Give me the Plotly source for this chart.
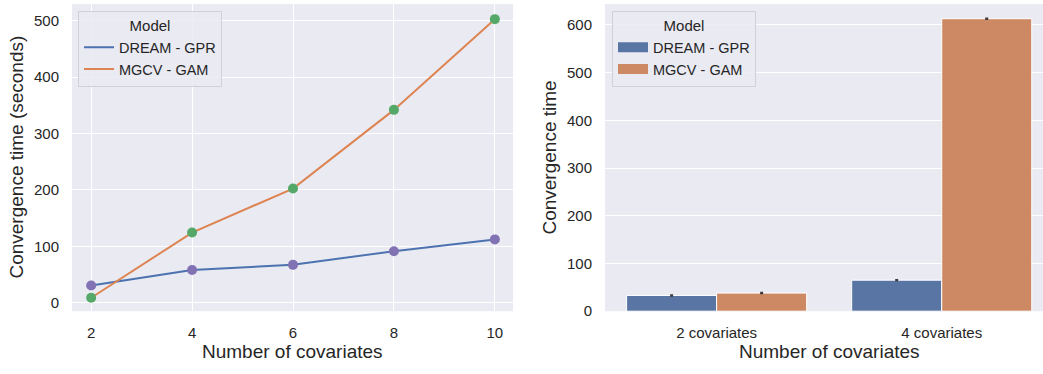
import plotly.graph_objects as go

# ---- data ----
covariates = [2, 4, 6, 8, 10]
dream_gpr = [30.5, 57.8, 67.0, 91.3, 112.2]
mgcv_gam = [8.7, 124.3, 202.4, 342.0, 503.0]

bar_categories = ["2 covariates", "4 covariates"]
bar_dream = [33, 65]
bar_mgcv = [38, 613]
bar_dream_err = [2.5, 2.5]
bar_mgcv_err = [2.5, 2.5]

# ---- styles ----
FONT = "Liberation Sans, Arial, sans-serif"
TXT = "#262626"
BG = "#eaeaf2"
BLUE = "#4c72b0"
ORANGE = "#dd8452"
GREEN = "#55a868"
PURPLE = "#8172b3"
BAR_BLUE = "#5975a4"
BAR_ORANGE = "#cc8963"

W, H = 1043, 374
def px_x(x):
    return x / W
def px_y(y):
    return 1 - y / H

fig = go.Figure()

# left: lines
fig.add_trace(go.Scatter(x=covariates, y=dream_gpr, mode="lines", name="DREAM - GPR",
                         line=dict(color=BLUE, width=2), xaxis="x", yaxis="y", legend="legend"))
fig.add_trace(go.Scatter(x=covariates, y=mgcv_gam, mode="lines", name="MGCV - GAM",
                         line=dict(color=ORANGE, width=2), xaxis="x", yaxis="y", legend="legend"))
fig.add_trace(go.Scatter(x=covariates, y=dream_gpr, mode="markers", showlegend=False,
                         marker=dict(color=PURPLE, size=10), xaxis="x", yaxis="y"))
fig.add_trace(go.Scatter(x=covariates, y=mgcv_gam, mode="markers", showlegend=False,
                         marker=dict(color=GREEN, size=10), xaxis="x", yaxis="y"))

# right: bars
err_style = dict(type="data", thickness=3, width=0, color="#3a3a3a")
fig.add_trace(go.Bar(x=bar_categories, y=bar_dream, name="DREAM - GPR", showlegend=False,
                     marker=dict(color=BAR_BLUE, line=dict(color="white", width=1)),
                     error_y=dict(array=bar_dream_err, **err_style),
                     xaxis="x2", yaxis="y2"))
fig.add_trace(go.Bar(x=bar_categories, y=bar_mgcv, name="MGCV - GAM", showlegend=False,
                     marker=dict(color=BAR_ORANGE, line=dict(color="white", width=1)),
                     error_y=dict(array=bar_mgcv_err, **err_style),
                     xaxis="x2", yaxis="y2"))
# legend entries for bars (wide patches like seaborn)
fig.add_trace(go.Scatter(x=[None], y=[None], mode="lines", name="DREAM - GPR",
                         line=dict(color=BAR_BLUE, width=10), xaxis="x2", yaxis="y2", legend="legend2"))
fig.add_trace(go.Scatter(x=[None], y=[None], mode="lines", name="MGCV - GAM",
                         line=dict(color=BAR_ORANGE, width=10), xaxis="x2", yaxis="y2", legend="legend2"))

ydom = [px_y(318), px_y(4)]
tickfont = dict(family=FONT, size=15, color=TXT)
common_axis = dict(showline=False, zeroline=False, ticks="", tickfont=tickfont,
                   gridcolor="white", gridwidth=1.3)

legend_common = dict(
    title=dict(text="Model", side="top center", font=dict(family=FONT, size=15, color=TXT)),
    font=dict(family=FONT, size=14.5, color=TXT),
    bgcolor="rgba(234,234,242,0.85)", bordercolor="#d0d0d8", borderwidth=1,
    xanchor="left", yanchor="top", tracegroupgap=0,
)

fig.update_layout(
    width=W, height=H,
    margin=dict(l=0, r=0, t=0, b=0),
    paper_bgcolor="white", plot_bgcolor=BG,
    font=dict(family=FONT, color=TXT),
    barmode="group", bargap=0.2, bargroupgap=0,
    xaxis=dict(domain=[px_x(72), px_x(513)], anchor="y", range=[1.62, 10.36],
               tickvals=[2, 4, 6, 8, 10], showgrid=True, ticklabelstandoff=11, **common_axis),
    yaxis=dict(domain=ydom, anchor="x", range=[-15.2, 530],
               tickvals=[0, 100, 200, 300, 400, 500], showgrid=True, ticklabelstandoff=12, **common_axis),
    xaxis2=dict(domain=[px_x(605), 1.0], anchor="y2", range=[-0.496, 1.45],
                showgrid=False, ticklabelstandoff=11, **common_axis),
    yaxis2=dict(domain=ydom, anchor="x2", range=[0, 644],
                tickvals=[0, 100, 200, 300, 400, 500, 600], showgrid=True, ticklabelstandoff=12, **common_axis),
    legend=dict(x=px_x(78), y=px_y(11), **legend_common),
    legend2=dict(x=px_x(612), y=px_y(11), **legend_common),
    annotations=[
        dict(text="Number of covariates", x=px_x(292), y=px_y(359), xref="paper", yref="paper",
             showarrow=False, font=dict(family=FONT, size=19, color=TXT), xanchor="center", yanchor="middle"),
        dict(text="Number of covariates", x=px_x(829), y=px_y(359), xref="paper", yref="paper",
             showarrow=False, font=dict(family=FONT, size=19, color=TXT), xanchor="center", yanchor="middle"),
        dict(text="Convergence time (seconds)", x=px_x(17), y=px_y(161), xref="paper", yref="paper",
             showarrow=False, textangle=-90, font=dict(family=FONT, size=19, color=TXT),
             xanchor="center", yanchor="middle"),
        dict(text="Convergence time", x=px_x(550), y=px_y(161), xref="paper", yref="paper",
             showarrow=False, textangle=-90, font=dict(family=FONT, size=19, color=TXT),
             xanchor="center", yanchor="middle"),
    ],
)

fig.write_html("out.html")
